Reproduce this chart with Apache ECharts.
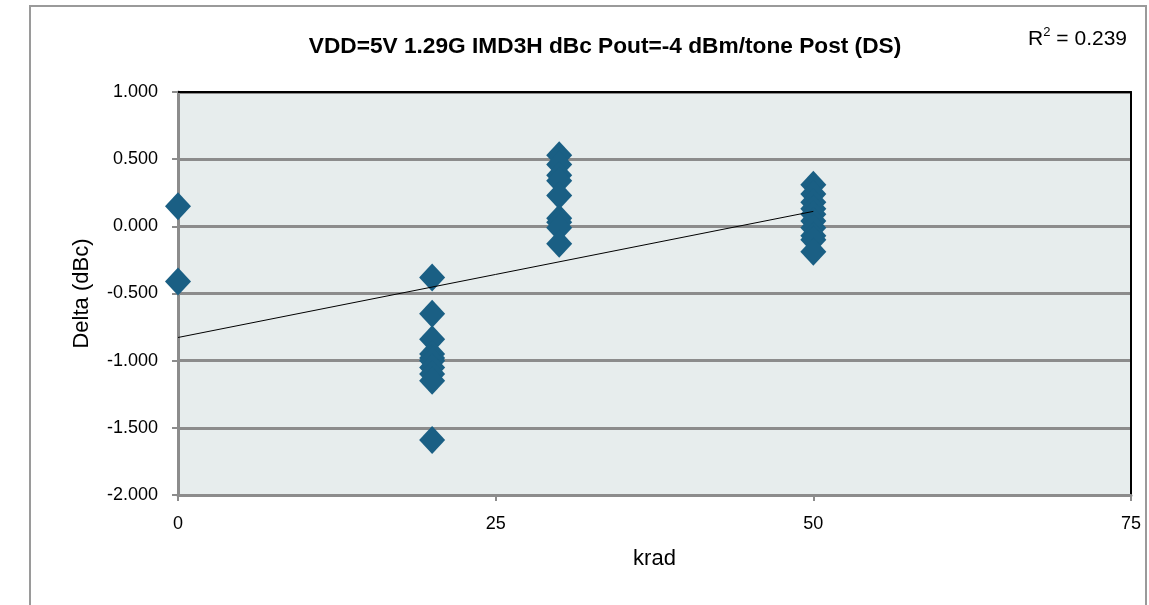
<!DOCTYPE html>
<html>
<head>
<meta charset="utf-8">
<title>IMD3H delta</title>
<script src="https://cdn.jsdelivr.net/npm/echarts@6/dist/echarts.min.js"></script>
<style>
  html, body { margin: 0; padding: 0; background: #fff; }
  #main { width: 1149px; height: 605px; }
</style>
</head>
<body>
<div id="main"></div>
<script>
// 数据：每个剂量点的 delta 值
const titleText = 'VDD=5V 1.29G IMD3H dBc Pout=-4 dBm/tone Post (DS)'
const rSquaredText = '0.239'
const xTicks = [0, 25, 50, 75]
const yTicks = [-2, -1.5, -1, -0.5, 0, 0.5, 1]

const krad0 = [0.15, -0.41]
const krad20 = [-0.38, -0.65, -0.84, -0.95, -0.98, -1.0, -1.05, -1.1, -1.15, -1.59]
const krad30 = [0.53, 0.46, 0.38, 0.34, 0.23, 0.06, 0.03, -0.01, -0.13]
const krad50 = [0.31, 0.24, 0.18, 0.13, 0.09, 0.04, -0.01, -0.07, -0.10, -0.19]

const groups = [[0, krad0], [20, krad20], [30, krad30], [50, krad50]]
const points = []
groups.forEach(([x, arr]) => arr.forEach(v => points.push([x, v])))

// 线性趋势线（最小二乘）
const n = points.length
const mx = points.reduce((s, p) => s + p[0], 0) / n
const my = points.reduce((s, p) => s + p[1], 0) / n
let sxy = 0, sxx = 0
points.forEach(p => { sxy += (p[0] - mx) * (p[1] - my); sxx += (p[0] - mx) ** 2 })
const slope = sxy / sxx
const intercept = my - slope * mx
const xs = points.map(p => p[0])
const xMin = Math.min(...xs), xMax = Math.max(...xs)
const trend = [[xMin, intercept + slope * xMin], [xMax, intercept + slope * xMax]]

const gray = '#8c8c8c'
const labelFont = '"Liberation Sans", Arial, sans-serif'

const myChart = echarts.init(document.getElementById('main'))
const option = {
  animation: false,
  backgroundColor: '#fff',
  title: {
    text: titleText,
    left: 600,
    top: 30,
    textAlign: 'center',
    textStyle: {
      fontFamily: labelFont,
      fontWeight: 'bold',
      fontSize: 22.7,
      color: '#000'
    }
  },
  graphic: [
    {
      type: 'rect',
      shape: { x: 30, y: 6, width: 1116, height: 640 },
      style: { fill: 'none', stroke: '#9a9a9a', lineWidth: 2 },
      z: -10,
      silent: true
    },
    {
      type: 'text',
      right: 22,
      top: 26,
      style: {
        text: '{a|R}{s|2}{a| = ' + rSquaredText + '}',
        rich: {
          a: { fontFamily: labelFont, fontSize: 21, color: '#000', verticalAlign: 'bottom' },
          s: { fontFamily: labelFont, fontSize: 13, color: '#000', verticalAlign: 'top', padding: [0, 0, 11, 0] }
        }
      }
    }
  ],
  grid: {
    left: 178,
    right: 18,
    top: 92,
    bottom: 110,
    show: true,
    backgroundColor: '#e7eded',
    borderWidth: 0
  },
  xAxis: [
    {
      type: 'value',
      min: 0,
      max: 75,
      interval: 25,
      name: 'krad',
      nameLocation: 'middle',
      nameGap: 53,
      nameTextStyle: { fontFamily: labelFont, fontSize: 22, color: '#000' },
      axisLine: { show: true, onZero: false, lineStyle: { color: gray, width: 3 } },
      axisTick: { show: true, length: 6, lineStyle: { color: gray, width: 2 } },
      axisLabel: { margin: 20, fontFamily: labelFont, fontSize: 18, color: '#000',
        formatter: v => xTicks.includes(v) ? String(v) : '' },
      splitLine: { show: false }
    },
    {
      type: 'value',
      position: 'top',
      min: 0,
      max: 75,
      axisLine: { show: true, onZero: false, lineStyle: { color: '#000', width: 2 } },
      axisTick: { show: false },
      axisLabel: { show: false },
      splitLine: { show: false }
    }
  ],
  yAxis: [
    {
      type: 'value',
      min: -2,
      max: 1,
      interval: 0.5,
      name: 'Delta (dBc)',
      nameLocation: 'middle',
      nameGap: 85,
      nameRotate: 90,
      nameTextStyle: { fontFamily: labelFont, fontSize: 22, color: '#000' },
      axisLine: { show: true, onZero: false, lineStyle: { color: gray, width: 3 } },
      axisTick: { show: true, length: 6, lineStyle: { color: gray, width: 2 } },
      axisLabel: { margin: 20, fontFamily: labelFont, fontSize: 18, color: '#000',
        formatter: v => yTicks.includes(v) ? v.toFixed(3) : '' },
      splitLine: { show: true, lineStyle: { color: gray, width: 3 } }
    },
    {
      type: 'value',
      position: 'right',
      min: -2,
      max: 1,
      axisLine: { show: true, onZero: false, lineStyle: { color: '#000', width: 2 } },
      axisTick: { show: false },
      axisLabel: { show: false },
      splitLine: { show: false }
    }
  ],
  series: [
    {
      name: 'Delta',
      type: 'scatter',
      data: points,
      symbol: 'diamond',
      symbolSize: [26, 28],
      itemStyle: { color: '#1a5f84', opacity: 1 },
      z: 3
    },
    {
      name: 'Trend',
      type: 'line',
      data: trend,
      symbol: 'none',
      lineStyle: { color: '#000', width: 1 },
      z: 4
    }
  ]
}
myChart.setOption(option)
</script>
</body>
</html>
